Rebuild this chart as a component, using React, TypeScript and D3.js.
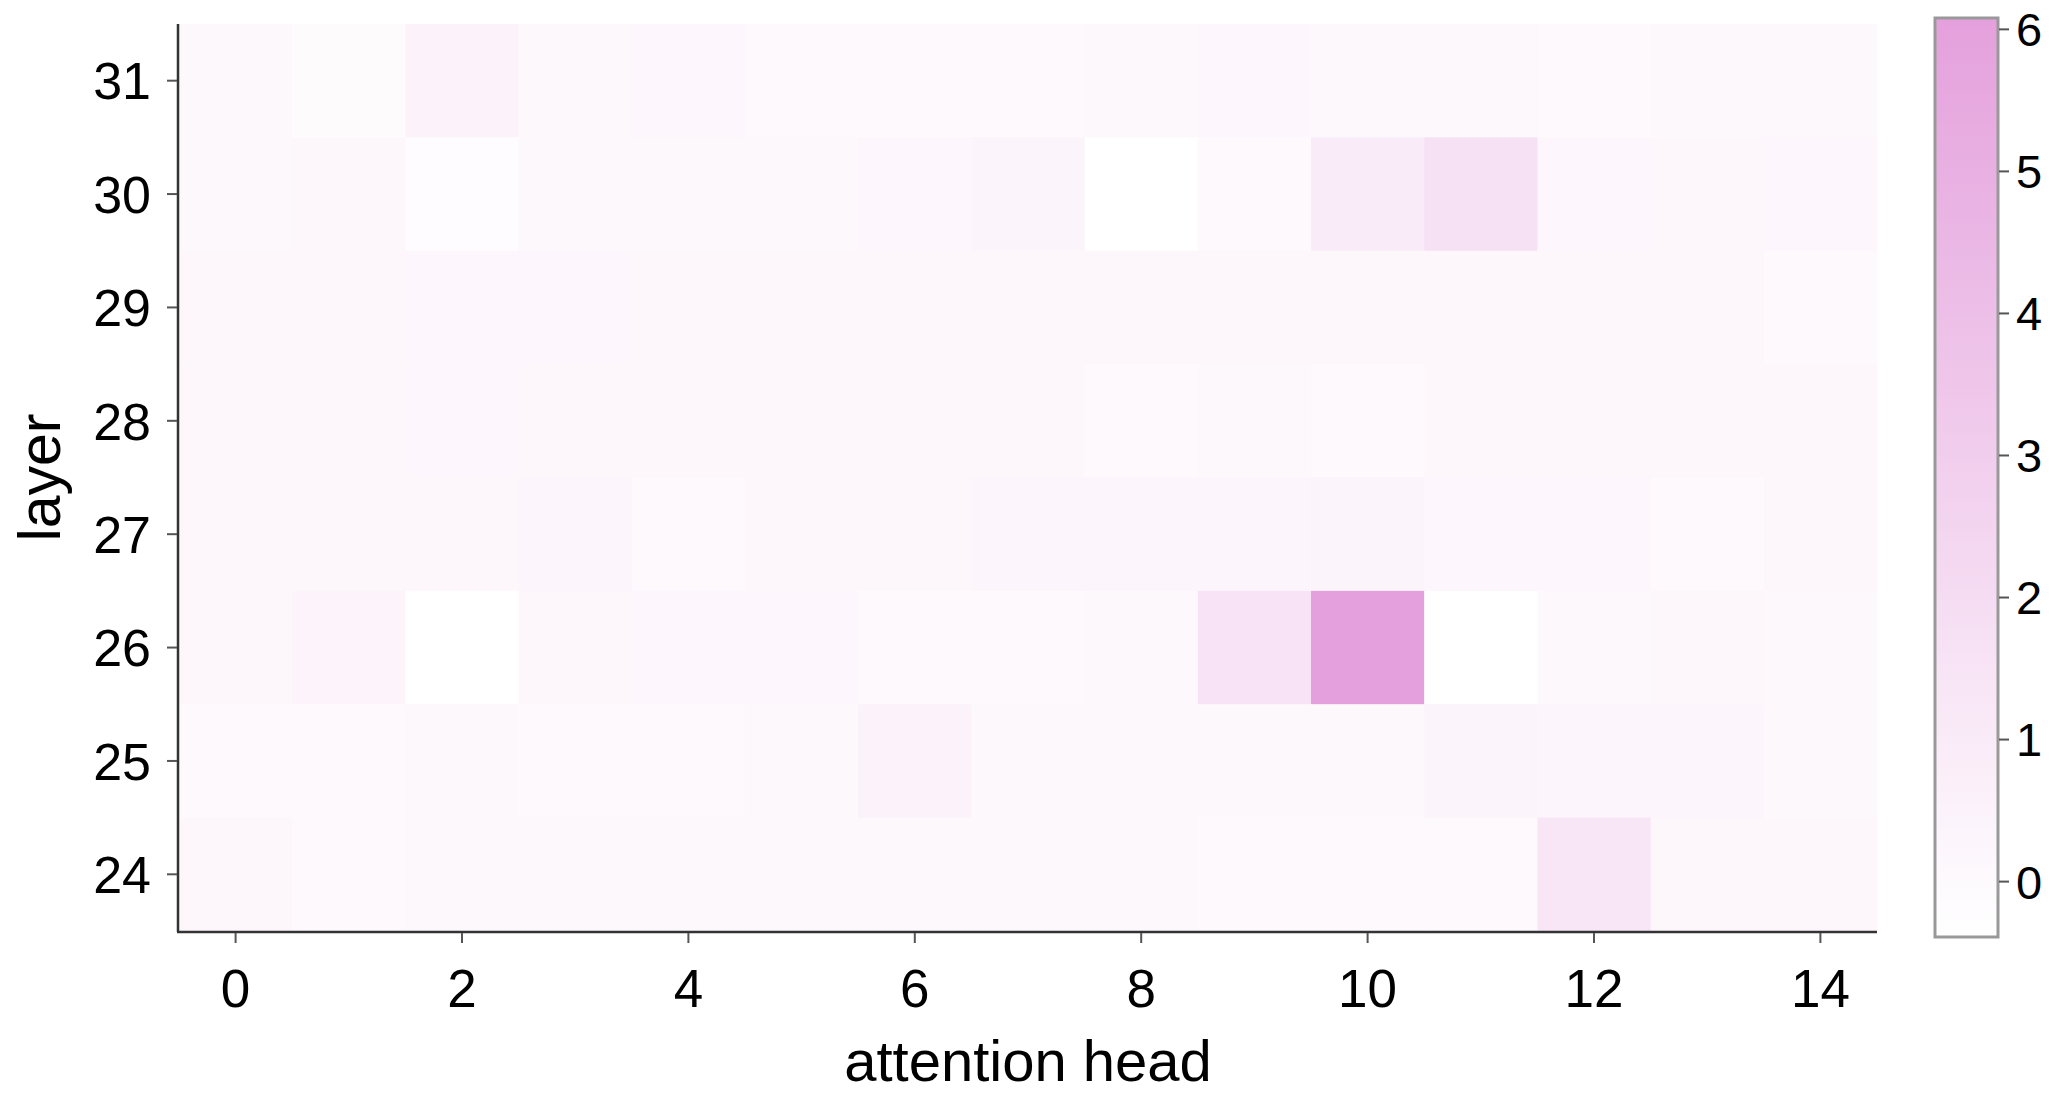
import React from "react";
import * as d3 from "d3";

const heads = [0, 1, 2, 3, 4, 5, 6, 7, 8, 9, 10, 11, 12, 13, 14];
const layers = [31, 30, 29, 28, 27, 26, 25, 24];
const xTicks = [0, 2, 4, 6, 8, 10, 12, 14];
const cbTicks = [0, 1, 2, 3, 4, 5, 6];

// values per layer, heads 0..14
const layer31 = [0.1, -0.1, 0.5, 0.1, 0.2, 0.0, 0.0, 0.05, 0.1, 0.2, 0.1, 0.1, 0.05, 0.1, 0.1];
const layer30 = [0.1, 0.15, -0.2, 0.1, 0.1, 0.1, 0.2, 0.35, -0.39, 0.05, 1.0, 1.7, 0.2, 0.15, 0.2];
const layer29 = [0.15, 0.15, 0.2, 0.2, 0.15, 0.15, 0.15, 0.15, 0.15, 0.15, 0.15, 0.15, 0.15, 0.15, 0.05];
const layer28 = [0.15, 0.15, 0.2, 0.15, 0.15, 0.15, 0.15, 0.15, 0.05, 0.1, 0.05, 0.15, 0.15, 0.15, 0.15];
const layer27 = [0.15, 0.15, 0.15, 0.25, 0.0, 0.15, 0.15, 0.3, 0.25, 0.25, 0.35, 0.2, 0.2, 0.05, 0.15];
const layer26 = [0.15, 0.4, -0.39, 0.15, 0.2, 0.2, 0.0, 0.0, 0.1, 1.5, 6.06, -0.39, 0.1, 0.15, 0.1];
const layer25 = [0.05, 0.05, 0.1, 0.05, 0.05, 0.1, 0.5, 0.1, 0.1, 0.1, 0.1, 0.35, 0.3, 0.25, 0.1];
const layer24 = [0.15, 0.05, 0.1, 0.1, 0.1, 0.1, 0.1, 0.1, 0.1, 0.05, 0.05, 0.05, 1.3, 0.15, 0.15];
const values = [layer31, layer30, layer29, layer28, layer27, layer26, layer25, layer24];

const vmin = -0.39;
const vmax = 6.08;
const colorLow = "#ffffff";
const colorHigh = "#e4a0dc";

export default function App() {
  const W = 2051;
  const H = 1094;
  const left = 179, right = 1877, top = 24, bottom = 931;
  const x = d3.scaleBand<number>().domain(heads).range([left, right]).padding(0);
  const y = d3.scaleBand<number>().domain(layers).range([top, bottom]).padding(0);
  const color = d3.scaleLinear<string>().domain([vmin, vmax]).range([colorLow, colorHigh]).interpolate(d3.interpolateRgb);
  const cbX = 1935, cbW = 63, cbTop = 18, cbBottom = 937;
  const cb = d3.scaleLinear().domain([vmin, vmax]).range([cbBottom, cbTop]);
  const font = "'Liberation Sans', Arial, Helvetica, sans-serif";
  const stops = d3.range(0, 1.0001, 0.1);

  return (
    <svg width={W} height={H} style={{ position: "absolute", left: 0, top: 0, background: "#fff" }} fontFamily={font}>
      <defs>
        <linearGradient id="cbgrad" x1="0" y1="1" x2="0" y2="0">
          {stops.map((s) => (
            <stop key={s} offset={s} stopColor={color(vmin + s * (vmax - vmin))} />
          ))}
        </linearGradient>
      </defs>
      {values.map((row, i) =>
        row.map((v, j) => (
          <rect
            key={`${i}-${j}`}
            x={x(heads[j])!}
            y={y(layers[i])!}
            width={x.bandwidth() + 0.5}
            height={y.bandwidth() + 0.5}
            fill={color(v)}
          />
        ))
      )}
      {/* spines */}
      <line x1={left - 1} x2={left - 1} y1={top} y2={bottom + 1} stroke="#333" strokeWidth={2.5} />
      <line x1={left - 2} x2={right} y1={bottom + 1} y2={bottom + 1} stroke="#333" strokeWidth={2.5} />
      {/* y ticks */}
      {layers.map((l) => {
        const cy = y(l)! + y.bandwidth() / 2;
        return (
          <g key={l}>
            <line x1={left - 12} x2={left - 2} y1={cy} y2={cy} stroke="#555" strokeWidth={2} />
            <text x={151} y={cy} dy="0.36em" textAnchor="end" fontSize={52} fill="#000">
              {l}
            </text>
          </g>
        );
      })}
      {/* x ticks */}
      {xTicks.map((h) => {
        const cx = x(h)! + x.bandwidth() / 2;
        return (
          <g key={h}>
            <line x1={cx} x2={cx} y1={bottom + 2} y2={bottom + 12} stroke="#555" strokeWidth={2} />
            <text x={cx} y={1007} textAnchor="middle" fontSize={53} fill="#000">
              {h}
            </text>
          </g>
        );
      })}
      <text x={(left + right) / 2} y={1081} textAnchor="middle" fontSize={58} fill="#000">
        attention head
      </text>
      <text
        transform={`translate(60, ${(top + bottom) / 2}) rotate(-90)`}
        textAnchor="middle"
        fontSize={59}
        fill="#000"
      >
        layer
      </text>
      {/* colorbar */}
      <rect x={cbX} y={cbTop} width={cbW} height={cbBottom - cbTop} fill="url(#cbgrad)" stroke="#999" strokeWidth={3} />
      {cbTicks.map((t) => (
        <g key={t}>
          <line x1={cbX + cbW + 1} x2={cbX + cbW + 11} y1={cb(t)} y2={cb(t)} stroke="#555" strokeWidth={2} />
          <text x={2016} y={cb(t)} dy="0.36em" textAnchor="start" fontSize={47} fill="#000">
            {t}
          </text>
        </g>
      ))}
    </svg>
  );
}
